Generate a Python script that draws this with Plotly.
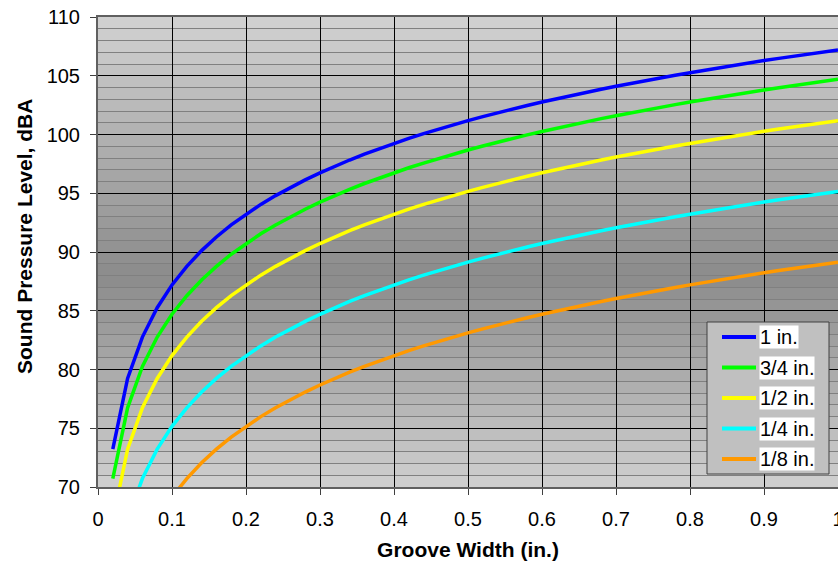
import plotly.graph_objects as go

# ---------------- data ----------------
groove_width = [0.02, 0.04, 0.06, 0.08, 0.10, 0.12, 0.14, 0.16, 0.18, 0.20,
                0.22, 0.24, 0.26, 0.28, 0.30, 0.32, 0.34, 0.36, 0.38, 0.40,
                0.42, 0.44, 0.46, 0.48, 0.50, 0.52, 0.54, 0.56, 0.58, 0.60,
                0.62, 0.64, 0.66, 0.68, 0.70, 0.72, 0.74, 0.76, 0.78, 0.80,
                0.82, 0.84, 0.86, 0.88, 0.90, 0.92, 0.94, 0.96, 0.98, 1.00]

spl_1in = [73.22, 79.24, 82.76, 85.26, 87.20, 88.78, 90.12, 91.28, 92.31, 93.22,
           94.05, 94.80, 95.50, 96.14, 96.74, 97.30, 97.83, 98.33, 98.80, 99.24,
           99.67, 100.07, 100.46, 100.83, 101.18, 101.52, 101.85, 102.16, 102.47, 102.76,
           103.05, 103.32, 103.59, 103.85, 104.10, 104.35, 104.59, 104.82, 105.04, 105.26,
           105.48, 105.69, 105.89, 106.09, 106.29, 106.48, 106.66, 106.85, 107.03, 107.20]
spl_3_4in = [70.72, 76.74, 80.26, 82.76, 84.70, 86.28, 87.62, 88.78, 89.81, 90.72,
             91.55, 92.30, 93.00, 93.64, 94.24, 94.80, 95.33, 95.83, 96.30, 96.74,
             97.17, 97.57, 97.96, 98.33, 98.68, 99.02, 99.35, 99.66, 99.97, 100.26,
             100.55, 100.82, 101.09, 101.35, 101.60, 101.85, 102.09, 102.32, 102.54, 102.76,
             102.98, 103.19, 103.39, 103.59, 103.79, 103.98, 104.16, 104.35, 104.53, 104.70]
spl_1_2in = [67.20, 73.22, 76.74, 79.24, 81.18, 82.76, 84.10, 85.26, 86.29, 87.20,
             88.03, 88.78, 89.48, 90.12, 90.72, 91.28, 91.81, 92.31, 92.78, 93.22,
             93.65, 94.05, 94.44, 94.81, 95.16, 95.50, 95.83, 96.14, 96.45, 96.74,
             97.03, 97.30, 97.57, 97.83, 98.08, 98.33, 98.57, 98.80, 99.02, 99.24,
             99.46, 99.67, 99.87, 100.07, 100.27, 100.46, 100.64, 100.83, 101.01, 101.18]
spl_1_4in = [61.18, 67.20, 70.72, 73.22, 75.16, 76.74, 78.08, 79.24, 80.27, 81.18,
             82.01, 82.76, 83.46, 84.10, 84.70, 85.26, 85.79, 86.29, 86.76, 87.20,
             87.63, 88.03, 88.42, 88.79, 89.14, 89.48, 89.81, 90.12, 90.43, 90.72,
             91.01, 91.28, 91.55, 91.81, 92.06, 92.31, 92.55, 92.78, 93.00, 93.22,
             93.44, 93.65, 93.85, 94.05, 94.25, 94.44, 94.62, 94.81, 94.99, 95.16]
spl_1_8in = [55.16, 61.18, 64.70, 67.20, 69.14, 70.72, 72.06, 73.22, 74.25, 75.16,
             75.99, 76.74, 77.44, 78.08, 78.68, 79.24, 79.77, 80.27, 80.74, 81.18,
             81.61, 82.01, 82.40, 82.77, 83.12, 83.46, 83.79, 84.10, 84.41, 84.70,
             84.99, 85.26, 85.53, 85.79, 86.04, 86.29, 86.53, 86.76, 86.98, 87.20,
             87.42, 87.63, 87.83, 88.03, 88.23, 88.42, 88.60, 88.79, 88.97, 89.14]

series_names = ["1 in.", "3/4 in.", "1/2 in.", "1/4 in.", "1/8 in."]
series_values = [spl_1in, spl_3_4in, spl_1_2in, spl_1_4in, spl_1_8in]

x_tick_vals = [0, 0.1, 0.2, 0.3, 0.4, 0.5, 0.6, 0.7, 0.8, 0.9, 1.0]
x_tick_text = ["0", "0.1", "0.2", "0.3", "0.4", "0.5", "0.6", "0.7", "0.8", "0.9", "1"]
y_tick_vals = [70, 75, 80, 85, 90, 95, 100, 105, 110]

# ---------------- styling ----------------
series_colors = ["#0000ff", "#00ff00", "#ffff00", "#00ffff", "#ff9900"]
FONT = "Liberation Sans, Arial, sans-serif"
W, H = 838, 566
ML, MR, MT, MB = 98, 0, 17, 79
PW, PH = W - ML - MR, H - MT - MB


def px_x(p):
    return (p - ML) / PW


def px_y(p):
    return (H - MB - p) / PH


fig = go.Figure()
for name, vals, col in zip(series_names, series_values, series_colors):
    fig.add_trace(go.Scatter(x=groove_width, y=vals, name=name, mode="lines",
                             line=dict(color=col, width=3.5), showlegend=False))

shapes = []
# vertical gradient background (light - dark - light) in 1 dB bands
y_lo, y_hi = 70, 110
top_l, bot_l, mid_l = 0xd2, 0xd0, 0x8b
centre = 88.0
for v in range(y_lo, y_hi):
    mid = v + 0.5
    if mid > centre:
        g = mid_l + (top_l - mid_l) * (mid - centre) / (y_hi - centre)
    else:
        g = mid_l + (bot_l - mid_l) * (centre - mid) / (centre - y_lo)
    g = int(round(g))
    shapes.append(dict(type="rect", xref="paper", yref="y", x0=0, x1=1, y0=v, y1=v + 1,
                       fillcolor=f"rgb({g},{g},{g})", line=dict(width=0), layer="below"))

# legend box
lx0, lx1, ly0, ly1 = 707, 829, 322, 474
shapes.append(dict(type="rect", xref="paper", yref="paper",
                   x0=px_x(lx0), x1=px_x(lx1), y0=px_y(ly1), y1=px_y(ly0),
                   fillcolor="#c0c0c0", line=dict(color="#404040", width=1), layer="above"))
annotations = []
for i, (name, col) in enumerate(zip(series_names, series_colors)):
    cy = 337 + i * 30.5
    shapes.append(dict(type="line", xref="paper", yref="paper",
                       x0=px_x(722), x1=px_x(756), y0=px_y(cy), y1=px_y(cy),
                       line=dict(color=col, width=4), layer="above"))
    annotations.append(dict(xref="paper", yref="paper", x=px_x(759), y=px_y(cy),
                            xanchor="left", yanchor="middle", text=name, showarrow=False,
                            bgcolor="white", borderpad=0,
                            font=dict(family=FONT, size=20, color="black")))

annotations.append(dict(xref="paper", yref="paper", x=px_x(24), y=px_y(237),
                        xanchor="center", yanchor="middle", textangle=-90,
                        text="<b>Sound Pressure Level, dBA</b>", showarrow=False,
                        font=dict(family=FONT, size=21, color="black")))

fig.update_layout(
    width=W, height=H,
    margin=dict(l=ML, r=MR, t=MT, b=MB, pad=0),
    paper_bgcolor="white",
    plot_bgcolor="#b0b0b0",
    font=dict(family=FONT, color="black"),
    shapes=shapes,
    annotations=annotations,
    showlegend=False,
)

fig.update_xaxes(
    range=[0, 1], tickmode="array", tickvals=x_tick_vals, ticktext=x_tick_text,
    showgrid=True, gridcolor="black", gridwidth=1,
    showline=True, linecolor="#606060", linewidth=2, mirror=True,
    ticks="outside", ticklen=6, tickcolor="#404040", tickwidth=1,
    tickfont=dict(family=FONT, size=20, color="black"), ticklabelstandoff=7,
    ticklabeloverflow="allow",
    zeroline=False, automargin=False,
    title=dict(text="<b>Groove Width (in.)</b>", font=dict(family=FONT, size=21, color="black"),
               standoff=13),
)
fig.update_yaxes(
    range=[70, 110], tickmode="array", tickvals=y_tick_vals,
    showgrid=True, gridcolor="black", gridwidth=1,
    minor=dict(dtick=1, showgrid=True, gridcolor="#808080", gridwidth=1, ticks=""),
    showline=True, linecolor="#606060", linewidth=2,
    ticks="outside", ticklen=6, tickcolor="#404040", tickwidth=1,
    tickfont=dict(family=FONT, size=20, color="black"), ticklabelstandoff=6,
    ticklabeloverflow="allow",
    zeroline=False, automargin=False,
)

fig.write_html("out.html")
